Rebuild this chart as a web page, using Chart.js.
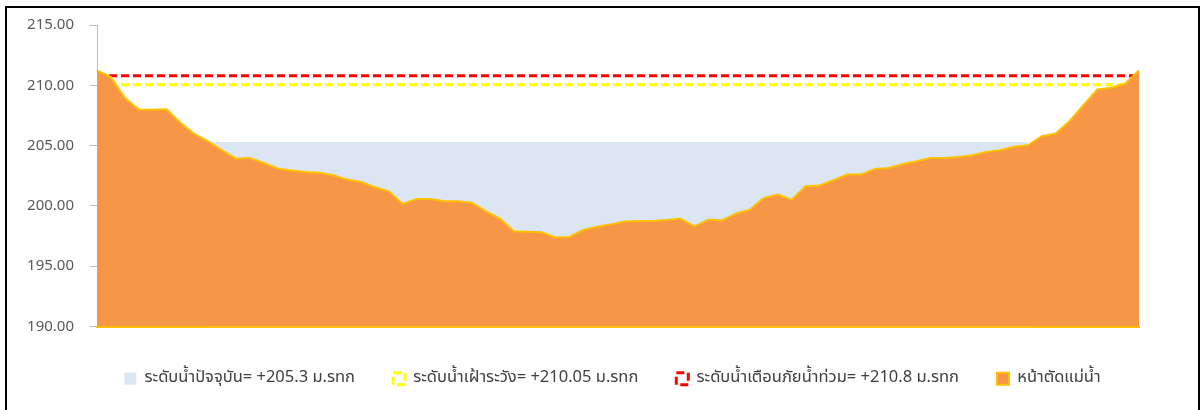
<!DOCTYPE html>
<html>
<head>
<meta charset="utf-8">
<script src="https://cdn.jsdelivr.net/npm/chart.js@4"></script>
<style>
  html, body { margin: 0; padding: 0; background: #fff; }
  #frame {
    position: absolute; left: 5px; top: 6px;
    width: 1191px; height: 404px;
    border-top: 2px solid #000; border-left: 2px solid #000; border-right: 2px solid #000;
  }
  #chart { position: absolute; left: 7px; top: 0px; }
</style>
</head>
<body>
<div id="frame"></div>
<canvas id="chart" width="1191" height="410"></canvas>
<script>
// ระดับท้องน้ำ (หน้าตัดแม่น้ำ) อ่านค่าจากภาพ
var bedLevel = [
  211.24, 210.68, 208.96, 208.00, 207.97, 208.02, 206.89, 205.97, 205.36, 204.60,
  203.93, 203.98, 203.56, 203.10, 202.93, 202.82, 202.74, 202.54, 202.18, 201.98,
  201.55, 201.21, 200.16, 200.58, 200.58, 200.38, 200.38, 200.24, 199.55, 198.94,
  197.89, 197.86, 197.81, 197.39, 197.42, 198.00, 198.28, 198.47, 198.70, 198.75,
  198.75, 198.83, 198.94, 198.31, 198.86, 198.80, 199.38, 199.69, 200.66, 200.94,
  200.52, 201.63, 201.69, 202.13, 202.60, 202.60, 203.07, 203.15, 203.48, 203.70,
  203.98, 203.98, 204.06, 204.20, 204.48, 204.62, 204.90, 205.03, 205.78, 206.00,
  207.03, 208.36, 209.66, 209.80, 210.13, 211.24
];
var waterNow = 205.3;
var watchLevel = 210.05;
var warnLevel = 210.8;

var labels = bedLevel.map(function (v, i) { return i + 1; });

// น้ำปัจจุบัน: เฉพาะช่วงที่ท้องน้ำต่ำกว่าระดับน้ำ
var firstWet = 8, lastWet = 67;
var waterData = bedLevel.map(function (v, i) {
  return (i >= firstWet && i <= lastWet) ? waterNow : null;
});
var watchData = bedLevel.map(function () { return watchLevel; });
var warnData = bedLevel.map(function () { return warnLevel; });

var thaiFont = "'Tahoma', 'Noto Sans Thai', 'Noto Sans', 'DejaVu Sans', sans-serif";

var ctx = document.getElementById('chart').getContext('2d');
var chart = new Chart(ctx, {
  type: 'line',
  data: {
    labels: labels,
    datasets: [{
      label: 'ระดับน้ำปัจจุบัน= +205.3 ม.รทก',
      data: waterData,
      backgroundColor: '#DCE6F2',
      borderColor: '#DCE6F2',
      borderWidth: 0,
      fill: 'start',
      pointRadius: 0,
      spanGaps: false,
      order: 3
    }, {
      label: 'ระดับน้ำเฝ้าระวัง= +210.05 ม.รทก',
      data: watchData,
      backgroundColor: '#FFFFFF',
      borderColor: '#FFFF00',
      borderWidth: 3,
      borderDash: [8, 4],
      fill: false,
      pointRadius: 0,
      order: 2
    }, {
      label: 'ระดับน้ำเตือนภัยน้ำท่วม= +210.8 ม.รทก',
      data: warnData,
      backgroundColor: '#FFFFFF',
      borderColor: '#FF0000',
      borderWidth: 3,
      borderDash: [8, 4],
      fill: false,
      pointRadius: 0,
      order: 1
    }, {
      label: 'หน้าตัดแม่น้ำ',
      data: bedLevel,
      backgroundColor: '#F79646',
      borderColor: '#FFC000',
      borderWidth: 2,
      fill: 'start',
      pointRadius: 0,
      tension: 0,
      order: 0
    }]
  },
  options: {
    responsive: false,
    animation: false,
    layout: { padding: { left: 20, right: 0, top: 9, bottom: 13 } },
    plugins: {
      tooltip: { enabled: false },
      legend: {
        position: 'bottom',
        labels: {
          boxWidth: 12,
          boxHeight: 12,
          padding: 38,
          color: '#404040',
          font: { family: thaiFont, size: 16.5 },
          sort: function (a, b) { return a.datasetIndex - b.datasetIndex; }
        }
      }
    },
    scales: {
      x: {
        type: 'category',
        offset: false,
        afterFit: function (s) { s.height = s.height + 6; },
        grid: { display: false, drawTicks: false },
        ticks: { display: false },
        border: { display: true, color: '#FFC000', width: 2 }
      },
      y: {
        min: 190,
        max: 215,
        afterFit: function (s) { s.width = 70; },
        ticks: {
          stepSize: 5,
          padding: 16,
          color: '#595959',
          font: { family: "'Noto Sans', sans-serif", size: 15 },
          callback: function (v) { return Number(v).toFixed(2); }
        },
        grid: { drawOnChartArea: false, drawTicks: true, tickLength: 7, color: '#BFBFBF' },
        border: { display: true, color: '#BFBFBF', width: 1 }
      },
      // ช่องว่างด้านขวาของกราฟ
      yRight: {
        position: 'right',
        display: true,
        afterFit: function (s) { s.width = 59; },
        ticks: { display: false },
        grid: { display: false, drawTicks: false },
        border: { display: false }
      }
    }
  }
});
</script>
</body>
</html>
